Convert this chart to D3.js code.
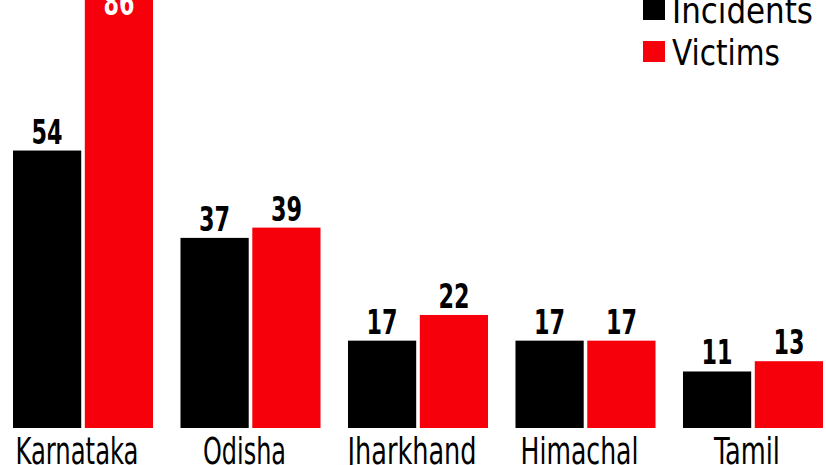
<!DOCTYPE html>
<html>
<head>
<meta charset="utf-8">
<script src="https://cdn.jsdelivr.net/npm/d3@7"></script>
<style>
  html, body { margin: 0; padding: 0; background: #fff; }
  svg { display: block; }
</style>
</head>
<body>
<svg id="chart" width="826" height="465"></svg>
<script>
const categories = ["Karnataka", "Odisha", "Jharkhand", "Himachal", "Tamil"];
const seriesNames = ["Incidents", "Victims"];
const incidents = [54, 37, 17, 17, 11];
const victims = [86, 39, 22, 17, 13];
const labelWidths = [123, 83, 129, 118, 66];

const colors = { Incidents: "#000000", Victims: "#f6000b" };
const FONT = "'DejaVu Sans Condensed', 'Liberation Sans Narrow', 'DejaVu Sans', sans-serif";

const svg = d3.select("#chart");
const baseY = 428;
const y = d3.scaleLinear().domain([0, 83.3]).range([baseY, 0]);

const x0 = d3.scaleBand().domain(categories).range([13, 823]).paddingInner(0.164).paddingOuter(0);
const x1 = d3.scaleBand().domain(seriesNames).range([0, x0.bandwidth()]).paddingInner(0.05).paddingOuter(0);

const data = categories.map((c, i) => ({ cat: c, values: [
  { key: "Incidents", value: incidents[i] },
  { key: "Victims", value: victims[i] }
]}));

const groups = svg.selectAll("g.grp").data(data).join("g")
  .attr("class", "grp")
  .attr("transform", d => `translate(${x0(d.cat)},0)`);

groups.selectAll("rect").data(d => d.values).join("rect")
  .attr("x", d => x1(d.key))
  .attr("y", d => y(d.value))
  .attr("width", x1.bandwidth())
  .attr("height", d => baseY - y(d.value))
  .attr("fill", d => colors[d.key]);

groups.selectAll("text.val").data(d => d.values).join("text")
  .attr("class", "val")
  .attr("x", d => x1(d.key) + x1.bandwidth() / 2)
  .attr("y", d => y(d.value) < 30 ? 15 : y(d.value) - 7)
  .attr("text-anchor", "middle")
  .attr("font-family", FONT)
  .attr("font-weight", "bold")
  .attr("font-size", 34)
  .attr("fill", d => y(d.value) < 30 ? "#fff" : "#000")
  .attr("textLength", 31)
  .attr("lengthAdjust", "spacingAndGlyphs")
  .text(d => d.value);

// category labels
svg.selectAll("text.cat").data(categories).join("text")
  .attr("class", "cat")
  .attr("x", d => x0(d) + x0.bandwidth() / 2 - 6)
  .attr("y", 464)
  .attr("text-anchor", "middle")
  .attr("font-family", FONT)
  .attr("font-size", 38)
  .attr("fill", "#000")
  .attr("textLength", (d, i) => labelWidths[i])
  .attr("lengthAdjust", "spacingAndGlyphs")
  .text(d => d);

// legend
const legendWidths = [141, 108];
const legend = svg.selectAll("g.leg").data(seriesNames).join("g")
  .attr("class", "leg")
  .attr("transform", (d, i) => `translate(643,${i * 42})`);
legend.append("rect")
  .attr("x", 0).attr("y", -1).attr("width", 22).attr("height", 21)
  .attr("fill", d => colors[d]);
legend.append("text")
  .attr("x", 29).attr("y", 23)
  .attr("font-family", FONT)
  .attr("font-size", 36)
  .attr("fill", "#000")
  .attr("textLength", (d, i) => legendWidths[i])
  .attr("lengthAdjust", "spacingAndGlyphs")
  .text(d => d);
</script>
</body>
</html>
